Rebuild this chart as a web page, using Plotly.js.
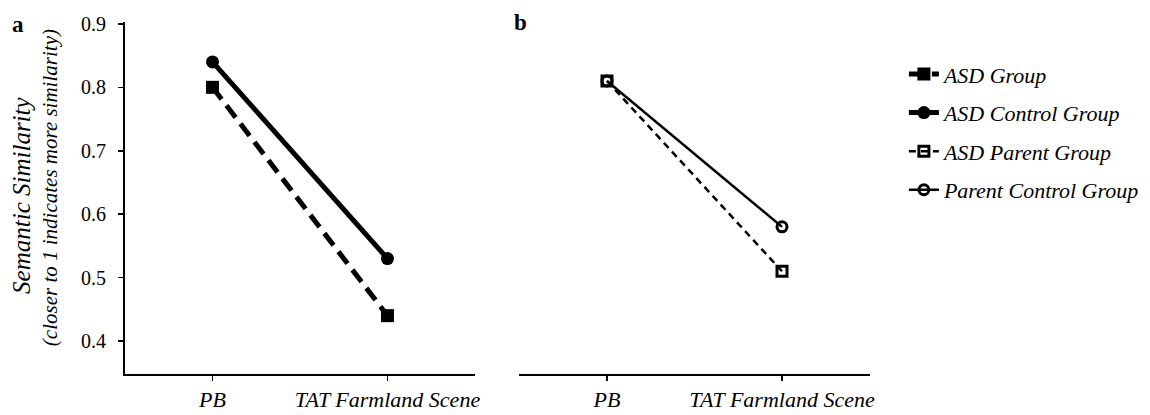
<!DOCTYPE html>
<html><head><meta charset="utf-8">
<script src="https://cdn.plot.ly/plotly-3.0.1.min.js"></script>
<style>html,body{margin:0;padding:0;background:#fff}</style>
</head><body>
<div id="chart" style="width:1150px;height:415px"></div>
<script>
const categories = ["PB", "TAT Farmland Scene"];
const asdGroup = [0.80, 0.44];
const asdControlGroup = [0.84, 0.53];
const asdParentGroup = [0.81, 0.51];
const parentControlGroup = [0.81, 0.58];
const seriesNames = ["ASD Group", "ASD Control Group", "ASD Parent Group", "Parent Control Group"];
const yTicks = [0.4, 0.5, 0.6, 0.7, 0.8, 0.9];

const serif = "Liberation Serif";

const traces = [
  {x: categories, y: asdGroup, name: seriesNames[0], xaxis: "x", yaxis: "y", mode: "lines+markers",
   legendgroup: "g1",
   line: {color: "#000", width: 5, dash: "15px,8px"}, marker: {symbol: "square", size: 13, color: "#000"}},
  {x: categories, y: asdControlGroup, name: seriesNames[1], xaxis: "x", yaxis: "y", mode: "lines+markers",
   legendgroup: "g2",
   line: {color: "#000", width: 5}, marker: {symbol: "circle", size: 13, color: "#000"}},
  {x: categories, y: asdParentGroup, name: seriesNames[2], xaxis: "x2", yaxis: "y2", mode: "lines+markers",
   legendgroup: "g3",
   line: {color: "#000", width: 2.5, dash: "7px,5px"}, marker: {symbol: "square-open", size: 10, color: "#000", line: {width: 3, color: "#000"}}},
  {x: categories, y: parentControlGroup, name: seriesNames[3], xaxis: "x2", yaxis: "y2", mode: "lines+markers",
   legendgroup: "g4",
   line: {color: "#000", width: 2.5}, marker: {symbol: "circle-open", size: 10, color: "#000", line: {width: 3, color: "#000"}}}
];

const xCommon = {
  type: "category", range: [-0.5, 1.5], showline: true, linecolor: "#000", linewidth: 2,
  ticks: "outside", ticklen: 5, tickwidth: 1.5, tickcolor: "#000", showgrid: false, zeroline: false,
  tickfont: {family: serif, size: 22, color: "#000", style: "italic"}, fixedrange: true
};
const yRange = [0.348, 0.903];

const layout = {
  width: 1150, height: 415,
  margin: {l: 0, r: 0, t: 22, b: 41},
  paper_bgcolor: "#fff", plot_bgcolor: "#fff",
  font: {family: serif, color: "#000"},
  showlegend: true,
  legend: {x: 0.786, y: 0.9115, xanchor: "left", yanchor: "top", tracegroupgap: 7,
           font: {family: serif, size: 22, color: "#000", style: "italic"}, bgcolor: "rgba(0,0,0,0)"},
  xaxis: Object.assign({}, xCommon, {domain: [0.1087, 0.413], anchor: "y"}),
  xaxis2: Object.assign({}, xCommon, {domain: [0.4517, 0.7561], anchor: "y2"}),
  yaxis: {range: yRange, tickvals: yTicks, ticktext: yTicks.map(v => v.toFixed(1)),
          showline: true, linecolor: "#000", linewidth: 2, ticks: "outside", ticklen: 5, tickwidth: 1.5,
          tickcolor: "#000", showgrid: false, zeroline: false, ticklabelstandoff: 8,
          tickfont: {family: serif, size: 20, color: "#000"}, anchor: "x"},
  yaxis2: {range: yRange, showline: false, showticklabels: false, ticks: "", showgrid: false,
           zeroline: false, anchor: "x2"},
  annotations: [
    {text: "<b>a</b>", xref: "paper", yref: "paper", x: 10/1150, y: 0.994, xanchor: "left", yanchor: "middle",
     showarrow: false, font: {family: serif, size: 23, color: "#000"}},
    {text: "<b>b</b>", xref: "paper", yref: "paper", x: 512/1150, y: 1.0, xanchor: "left", yanchor: "middle",
     showarrow: false, font: {family: serif, size: 23, color: "#000"}},
    {text: "Semantic Similarity", xref: "paper", yref: "paper", x: 22/1150, y: 0.506, xanchor: "center", yanchor: "middle",
     textangle: -90, showarrow: false, font: {family: serif, size: 25, color: "#000", style: "italic"}},
    {text: "(closer to 1 indicates more similarity)", xref: "paper", yref: "paper", x: 50/1150, y: 0.528, xanchor: "center", yanchor: "middle",
     textangle: -90, showarrow: false, font: {family: serif, size: 21, color: "#000", style: "italic"}}
  ]
};

Plotly.newPlot("chart", traces, layout, {displayModeBar: false, staticPlot: true});
</script>
</body></html>
